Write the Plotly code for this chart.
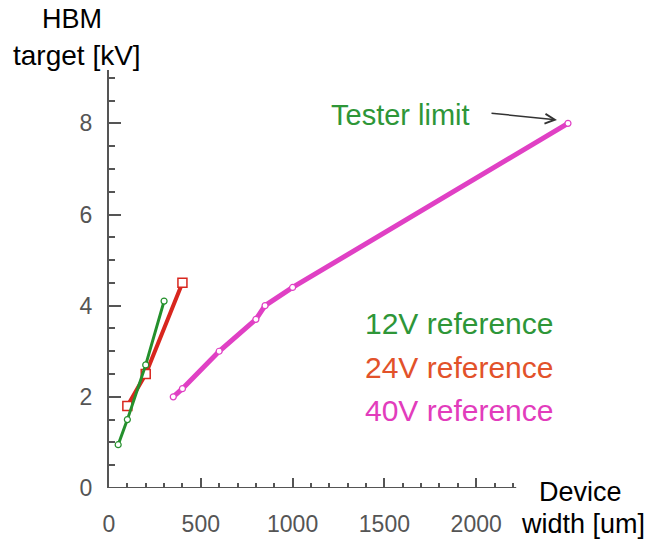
import plotly.graph_objects as go

# Data
x12 = [50, 100, 200, 300]
y12 = [0.95, 1.5, 2.7, 4.1]
x24 = [100, 200, 400]
y24 = [1.8, 2.5, 4.5]
x40 = [350, 400, 600, 800, 850, 1000, 2500]
y40 = [2.0, 2.18, 3.0, 3.7, 4.0, 4.4, 8.0]

x_major = [0, 500, 1000, 1500, 2000]
x_minor = [v for v in range(100, 2300, 100) if v % 500 != 0]
y_major = [0, 2, 4, 6, 8]
y_minor = [0.5, 1, 1.5, 2.5, 3, 3.5, 4.5, 5, 5.5, 6.5, 7, 7.5, 8.5, 9]

GREEN = "#24902c"
RED = "#d8261e"
MAG = "#e040c4"
TXT_GREEN = "#2e9638"
TXT_RED = "#e2522a"
TXT_MAG = "#e23cbc"
AX = "#555555"

XR = [0, 2560]
YR = [0, 9.17]
PX0, PX1, PY0, PY1 = 109, 579, 70, 488
W, H = 649, 543
L, T, R, B = PX0, PY0, W - PX1, H - PY1


def pxp(p):
    return (p - PX0) / (PX1 - PX0)


def pyp(p):
    return (PY1 - p) / (PY1 - PY0)


fig = go.Figure()
fig.add_trace(go.Scatter(x=x40, y=y40, mode="lines+markers",
                         line=dict(color=MAG, width=5),
                         marker=dict(symbol="circle", size=6, color="white",
                                     line=dict(color=MAG, width=1.2)),
                         cliponaxis=False, showlegend=False))
fig.add_trace(go.Scatter(x=x24, y=y24, mode="lines+markers",
                         line=dict(color=RED, width=4),
                         marker=dict(symbol="square", size=9, color="white",
                                     line=dict(color=RED, width=1.5)),
                         cliponaxis=False, showlegend=False))
fig.add_trace(go.Scatter(x=x12, y=y12, mode="lines+markers",
                         line=dict(color=GREEN, width=3),
                         marker=dict(symbol="circle", size=6, color="white",
                                     line=dict(color=GREEN, width=1.2)),
                         cliponaxis=False, showlegend=False))

# x-axis line only up to ~2218
fig.add_shape(type="line", x0=0, x1=2218, y0=0, y1=0, xref="x", yref="y",
              line=dict(color=AX, width=2))

tickfont = dict(family="Liberation Sans, Arial, sans-serif", size=23, color=AX)
fig.update_xaxes(range=XR, showline=False, showgrid=False, zeroline=False,
                 automargin=False,
                 tickmode="array", tickvals=x_major,
                 ticks="inside", ticklen=10, tickwidth=1.5, tickcolor=AX,
                 ticklabelstandoff=20, tickfont=tickfont,
                 minor=dict(tickvals=x_minor, ticks="inside", ticklen=5,
                            tickwidth=1.5, tickcolor=AX))
fig.update_yaxes(range=YR, showline=True, linecolor=AX, linewidth=2,
                 showgrid=False, zeroline=False, automargin=False,
                 tickmode="array", tickvals=y_major,
                 ticks="inside", ticklen=12, tickwidth=1.5, tickcolor=AX,
                 ticklabelstandoff=10, tickfont=tickfont,
                 minor=dict(tickvals=y_minor, ticks="inside", ticklen=6,
                            tickwidth=1.5, tickcolor=AX))

F = "Liberation Sans, Arial, sans-serif"
ann = []
ann.append(dict(text="HBM", x=pxp(72), y=pyp(19), showarrow=False,
                font=dict(family=F, size=27, color="black"),
                xanchor="center", yanchor="middle"))
ann.append(dict(text="target [kV]", x=pxp(77), y=pyp(55), showarrow=False,
                font=dict(family=F, size=28, color="black"),
                xanchor="center", yanchor="middle"))
ann.append(dict(text="Device", x=pxp(580), y=pyp(492), showarrow=False,
                font=dict(family=F, size=27, color="black"),
                xanchor="center", yanchor="middle"))
ann.append(dict(text="width [um]", x=pxp(583), y=pyp(524), showarrow=False,
                font=dict(family=F, size=27, color="black"),
                xanchor="center", yanchor="middle"))
ann.append(dict(text="Tester limit", x=pxp(400), y=pyp(115), showarrow=False,
                font=dict(family=F, size=29, color=TXT_GREEN),
                xanchor="center", yanchor="middle"))
ann.append(dict(text="", x=pxp(557), y=pyp(120), ax=-67, ay=-7,
                showarrow=True, arrowhead=5, arrowsize=1.3, arrowwidth=1.5,
                arrowcolor="#333333"))
for txt, col, py in [("12V reference", TXT_GREEN, 323),
                     ("24V reference", TXT_RED, 367),
                     ("40V reference", TXT_MAG, 410)]:
    ann.append(dict(text=txt, x=pxp(459), y=pyp(py), showarrow=False,
                    font=dict(family=F, size=30, color=col),
                    xanchor="center", yanchor="middle"))
for a in ann:
    a["xref"] = "paper"
    a["yref"] = "paper"
fig.update_layout(annotations=ann, width=W, height=H,
                  margin=dict(l=L, r=R, t=T, b=B),
                  paper_bgcolor="white", plot_bgcolor="white")

fig.write_html("out.html", config={"displayModeBar": False},
               post_script="document.body.style.margin='0';"
                           "document.documentElement.style.overflow='hidden';")
